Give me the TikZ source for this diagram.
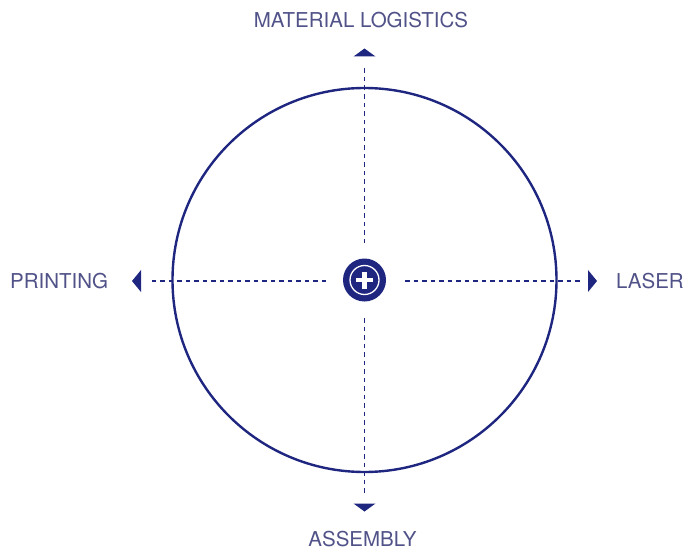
\documentclass[tikz,border=0pt]{standalone}
\usepackage{fontspec}
\setmainfont{TeX Gyre Heros}
\usetikzlibrary{calc}
\definecolor{navy}{RGB}{31,38,128}
\definecolor{labelc}{RGB}{80,82,136}
\begin{document}
\begin{tikzpicture}[x=1pt,y=-1pt,
  dashline/.style={draw=navy,line width=1.1pt,dash pattern=on 4.5pt off 4pt},
  tri/.style={fill=navy,draw=none},
  lbl/.style={text=labelc,font=\fontsize{20.5}{22}\selectfont,inner sep=0pt}]
\useasboundingbox (0,0) rectangle (683,551);
\coordinate (c) at (364.5,280);
\draw[navy,line width=2.4pt] (c) circle (192);
% badge
\fill[navy] (c) circle (21.5);
\draw[white,line width=1.3pt] (c) circle (14.5);
\fill[white] ($(c)+(-8.5,-2.2)$) rectangle ($(c)+(8.5,2.2)$);
\fill[white] ($(c)+(-2.2,-8.5)$) rectangle ($(c)+(2.2,8.5)$);
% dashed axes
\coordinate (tn) at (364.5,67);
\coordinate (ti) at (364.5,243);
\coordinate (bi) at (364.5,318);
\coordinate (bn) at (364.5,495);
\coordinate (li) at (326,281);
\coordinate (ln) at (150,281);
\coordinate (ri) at (405,281);
\coordinate (rn) at (580,281);
\draw[dashline] (ti) -- (tn);
\draw[dashline] (bi) -- (bn);
\draw[dashline] (li) -- (ln);
\draw[dashline] (ri) -- (rn);
% arrowheads
\fill[tri] (353.5,56.5) -- (375.5,56.5) -- (364.5,48.5) -- cycle;
\fill[tri] (353.5,503.5) -- (375.5,503.5) -- (364.5,511.5) -- cycle;
\fill[tri] (141,270) -- (141,292) -- (132,281) -- cycle;
\fill[tri] (588,270) -- (588,292) -- (597,281) -- cycle;
% labels
\node[lbl] (top) at (361,20) {MATERIAL LOGISTICS};
\node[lbl,anchor=west] (left) at (10,281.5) {PRINTING};
\node[lbl,anchor=west] (right) at (616,281.5) {LASER};
\node[lbl] (bottom) at (362.5,539.5) {ASSEMBLY};
\end{tikzpicture}
\end{document}
